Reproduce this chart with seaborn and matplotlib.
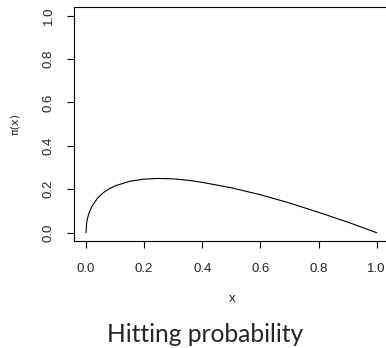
import numpy as np
import pandas as pd
import matplotlib
matplotlib.use("Agg")
import matplotlib.pyplot as plt
import seaborn as sns

x_vals = [0.0, 0.002, 0.005, 0.01, 0.02, 0.04, 0.06, 0.08, 0.10, 0.15, 0.20, 0.25,
          0.30, 0.35, 0.40, 0.50, 0.60, 0.70, 0.80, 0.90, 1.0]
pi_vals = [0.0, 0.043, 0.066, 0.090, 0.121, 0.160, 0.185, 0.203, 0.216, 0.237, 0.247, 0.250,
           0.248, 0.242, 0.232, 0.207, 0.175, 0.137, 0.094, 0.049, 0.0]
x_ticks = [0.0, 0.2, 0.4, 0.6, 0.8, 1.0]
y_ticks = [0.0, 0.2, 0.4, 0.6, 0.8, 1.0]

sns.set_style("ticks")
plt.rcParams['font.family'] = ['Liberation Sans', 'DejaVu Sans']

df = pd.DataFrame({"x": x_vals, "pi": pi_vals})

fig = plt.figure(figsize=(3.86, 3.48), dpi=100)
W, H = 386, 348
left, right, bottom, top = 74.4, 388.3, 241.4, 7.0
ax = fig.add_axes([left / W, 1 - bottom / H, (right - left) / W, (bottom - top) / H])

sns.lineplot(data=df, x="x", y="pi", ax=ax, color="black", linewidth=0.8,
             sort=False, estimator=None)

ax.set_xlim(-0.04, 1.04)
ax.set_ylim(-0.04, 1.04)
ax.set_xticks(x_ticks)
ax.set_xticklabels([f"{v:.1f}" for v in x_ticks], fontsize=9.5, family=['Liberation Sans'])
ax.set_yticks(y_ticks)
ax.set_yticklabels([f"{v:.1f}" for v in y_ticks], fontsize=9.5, rotation=90, va="center",
                   family=['Liberation Sans'])
ax.tick_params(axis="both", length=5, width=0.8, color="black", direction="out")
ax.tick_params(axis="x", pad=10.5)
ax.tick_params(axis="y", pad=9)
for s in ax.spines.values():
    s.set_visible(True)
    s.set_linewidth(0.8)
    s.set_color("black")

ax.set_xlabel("")
ax.set_ylabel("")
fig.text(232 / W, 1 - 298.5 / H, "x", ha="center", va="center", fontsize=9.5,
         family=['Lato', 'DejaVu Sans'])
fig.text(15 / W, 1 - 124 / H, "π(x)", ha="center", va="center", fontsize=8, rotation=90,
         family=['DejaVu Sans'])
fig.text(205 / W, 1 - 342 / H, "Hitting probability", ha="center", va="baseline", fontsize=17.7,
         family=['Lato', 'DejaVu Sans'])

fig.savefig("out.png", dpi=100)
